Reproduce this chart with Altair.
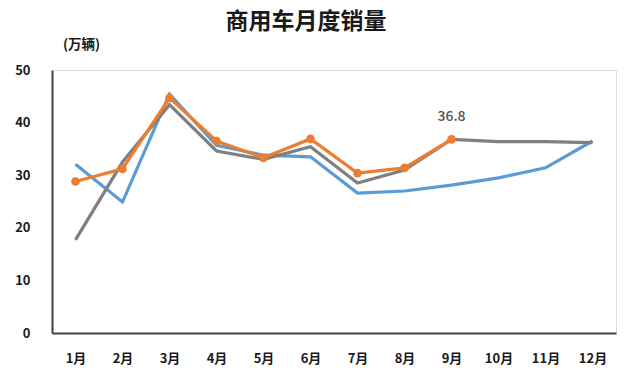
import altair as alt
import pandas as pd

months = ["1月", "2月", "3月", "4月", "5月", "6月", "7月", "8月", "9月", "10月", "11月", "12月"]
blue_vals = [32.1, 24.9, 45.4, 35.7, 33.8, 33.5, 26.6, 27.0, 28.1, 29.5, 31.4, 36.5]
gray_vals = [17.7, 32.5, 43.4, 34.6, 33.0, 35.4, 28.5, 31.0, 36.8, 36.4, 36.4, 36.2]
orange_vals = [28.8, 31.2, 44.7, 36.5, 33.3, 36.9, 30.4, 31.4, 36.8]
label_month = "9月"
label_text = "36.8"

FONT = "Noto Sans CJK SC"

blue_df = pd.DataFrame({"month": months, "value": blue_vals})
gray_df = pd.DataFrame({"month": months, "value": gray_vals})
orange_df = pd.DataFrame({"month": months[:len(orange_vals)], "value": orange_vals})
label_df = pd.DataFrame({"month": [label_month], "value": [orange_vals[months.index(label_month)]], "text": [label_text]})

x_enc = alt.X(
    "month:N", sort=months,
    scale=alt.Scale(type="point", padding=0.5, domain=months),
    axis=alt.Axis(title=None, domainColor="#404040", domainWidth=2, ticks=False,
                  labelPadding=19, labelFont=FONT, labelFontSize=13, labelFontWeight="bold",
                  labelColor="#1a1a1a", labelAngle=0),
)
y_enc = alt.Y(
    "value:Q",
    scale=alt.Scale(domain=[0, 50], nice=False),
    axis=alt.Axis(title="(万辆)", titleAngle=0, titleX=29, titleY=-26, titleAlign="center",
                  titleBaseline="middle", titleFont=FONT, titleFontSize=13.5, titleFontWeight="bold",
                  titleColor="#1a1a1a",
                  values=[0, 10, 20, 30, 40, 50], grid=False, ticks=False,
                  domainColor="#404040", domainWidth=2, labelPadding=22,
                  labelFont=FONT, labelFontSize=13, labelFontWeight="bold", labelColor="#1a1a1a"),
)

blue = alt.Chart(blue_df).mark_line(color="#5B9BD5", strokeWidth=3.2).encode(x=x_enc, y=y_enc)
gray = alt.Chart(gray_df).mark_line(color="#7F7F7F", strokeWidth=3.2).encode(x=x_enc, y=y_enc)
orange = alt.Chart(orange_df).mark_line(color="#ED7D31", strokeWidth=3.2).encode(x=x_enc, y=y_enc)
orange_pts = alt.Chart(orange_df).mark_circle(color="#ED7D31", size=75, opacity=1).encode(x=x_enc, y=y_enc)
label = alt.Chart(label_df).mark_text(dy=-22, font=FONT, fontSize=14, fontWeight=500, color="#505050").encode(
    x=x_enc, y=y_enc, text="text:N")

chart = alt.layer(blue, gray, orange, orange_pts, label).properties(
    width=564, height=263,
    autosize=alt.AutoSizeParams(type="none"),
    padding={"left": 52, "top": 70, "right": 24, "bottom": 42},
    title=alt.TitleParams("商用车月度销量", font=FONT, fontSize=23, fontWeight="bold",
                          color="#1a1a1a", anchor="middle", offset=3, dx=-28),
).configure_view(stroke=None).configure(background="white")

chart.save("out.html", embed_options={"renderer": "svg", "actions": False})
